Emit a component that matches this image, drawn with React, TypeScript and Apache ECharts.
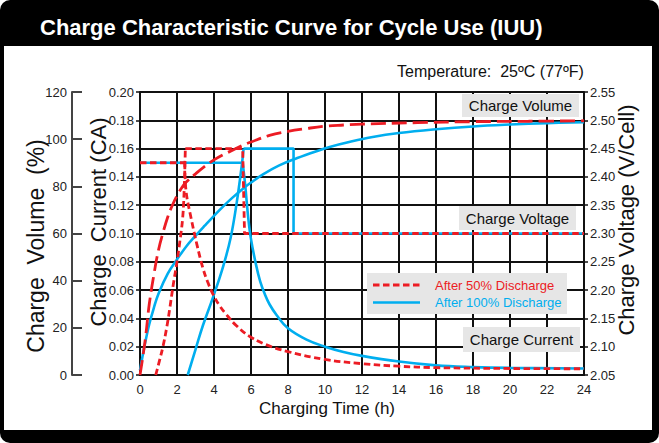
import React, { useEffect, useRef } from 'react';
import * as echarts from 'echarts';

const FONT = '"Liberation Sans", Arial, Helvetica, sans-serif';
const RED = '#ec1c24';
const BLUE = '#00aeef';

// x-axis ticks (h)
const hourTicks = [0, 2, 4, 6, 8, 10, 12, 14, 16, 18, 20, 22, 24];

// ---- After 50% discharge ----
const volume50Hours = [0, 0.15, 0.3, 0.5, 0.75, 1.0, 1.25, 1.5, 1.75, 2.0, 2.25, 2.5, 3.0, 3.5, 4.0, 4.5, 5.0, 5.5, 6.0, 7.0, 8.0, 9.0, 10, 11, 12, 15, 18, 21, 24];
const volume50 = [0, 7.5, 16, 30, 42.5, 53, 60.5, 67, 72, 76, 79.3, 81.8, 85.3, 88.5, 91.2, 93.4, 95.3, 97.2, 98.8, 101.6, 103.3, 104.5, 105.5, 106, 106.4, 107, 107.4, 107.6, 107.8];

const currentFlat50Hours = [0, 2.42];
const currentFlat50 = [0.15, 0.15];
const currentDecay50Hours = [2.42, 2.49, 2.76, 3.08, 3.39, 3.65, 3.95, 4.3, 4.65, 5.2, 5.9, 6.8, 8, 10, 12, 14, 16, 20, 24];
const currentDecay50 = [0.15, 0.13, 0.111, 0.092, 0.076, 0.066, 0.057, 0.049, 0.043, 0.035, 0.0275, 0.0215, 0.0165, 0.011, 0.008, 0.0062, 0.0052, 0.0046, 0.0044];

const voltRise50Hours = [0.85, 1.05, 1.24, 1.45, 1.62, 1.8, 2.0, 2.15, 2.3, 2.38, 2.45];
const voltRise50 = [2.05, 2.075, 2.1, 2.135, 2.17, 2.21, 2.25, 2.285, 2.325, 2.37, 2.45];
const voltHold50Hours = [2.45, 5.55, 5.65, 24];
const voltHold50 = [2.45, 2.45, 2.3, 2.3];

// ---- After 100% discharge ----
const volume100Hours = [0, 0.25, 0.5, 0.75, 1.0, 1.5, 2.0, 2.5, 3.0, 3.5, 4.0, 4.5, 5.0, 5.5, 6.0, 6.67, 7.5, 8.5, 9.5, 10.3, 11.36, 12.5, 14, 16, 18, 20, 22, 24];
const volume100 = [2, 12.5, 21.5, 28.5, 34.5, 43, 49, 54.5, 59, 63.3, 67.5, 71.5, 75.2, 78.6, 81.6, 85.2, 88.8, 92, 94.8, 96.8, 98.9, 100.8, 102.6, 104.2, 105.4, 106.2, 106.8, 107.2];

const currentFlat100Hours = [0, 5.55];
const currentFlat100 = [0.15, 0.15];
const currentDecay100Hours = [5.55, 5.68, 5.86, 6.0, 6.27, 6.5, 6.75, 7.0, 7.4, 8, 9, 10, 11, 12, 14, 16, 18, 20, 24];
const currentDecay100 = [0.15, 0.135, 0.11, 0.096, 0.078, 0.066, 0.057, 0.05, 0.042, 0.033, 0.025, 0.02, 0.0163, 0.0135, 0.0095, 0.0068, 0.0056, 0.005, 0.0046];

const voltRise100Hours = [2.58, 3.0, 3.4, 3.95, 4.5, 4.9, 5.23, 5.5, 5.6];
const voltRise100 = [2.05, 2.095, 2.1375, 2.1875, 2.2425, 2.2925, 2.355, 2.42, 2.45];
const voltHold100Hours = [5.6, 8.3, 8.3, 24];
const voltHold100 = [2.45, 2.45, 2.3, 2.3];

const legendNames = ['After 50% Discharge', 'After 100% Discharge'];

const pairs = (xs: number[], ys: number[]) => xs.map((x, i) => [x, ys[i]]);

const SHORT = [6.5, 3.5];
const LONG = [15, 6];

function line(name: string, xs: number[], ys: number[], axis: number, color: string, type: any, width: number, smooth: number | boolean) {
  return {
    name,
    type: 'line',
    yAxisIndex: axis,
    data: pairs(xs, ys),
    symbol: 'none',
    smooth,
    lineStyle: { color, width, type },
    itemStyle: { color },
  };
}

const N50 = legendNames[0];
const N100 = legendNames[1];

function labelBox(text: string, x: number, y: number, w: number, h: number) {
  return [
    { type: 'rect', z: 5, shape: { x, y, width: w, height: h }, style: { fill: '#e6e6e6' } },
    {
      type: 'text', z: 6, x: x + w / 2, y: y + h / 2,
      style: { text, fill: '#111', fontSize: 15, fontFamily: FONT, textAlign: 'center', textVerticalAlign: 'middle', align: 'center', verticalAlign: 'middle' },
    },
  ];
}

function vText(text: string, x: number, y: number, size: number) {
  return {
    type: 'text', x, y, rotation: Math.PI / 2,
    style: { text, fill: '#111', fontSize: size, fontFamily: FONT, textAlign: 'center', textVerticalAlign: 'middle', align: 'center', verticalAlign: 'middle' },
  };
}

function legendGraphic() {
  const x = 367, y = 273, w = 200, h = 41;
  const rows = [
    { name: N50, color: RED, dash: SHORT, width: 2.8, cy: y + 12 },
    { name: N100, color: BLUE, dash: null, width: 2.6, cy: y + 29.5 },
  ];
  const els: any[] = [{ type: 'rect', z: 5, shape: { x, y, width: w, height: h }, style: { fill: '#e6e6e6' } }];
  rows.forEach((r) => {
    els.push({
      type: 'line', z: 6,
      shape: { x1: x + 6, y1: r.cy, x2: x + 53, y2: r.cy },
      style: { stroke: r.color, lineWidth: r.width, lineDash: r.dash || undefined },
    });
    els.push({
      type: 'text', z: 6, x: x + 68, y: r.cy,
      style: { text: r.name, fill: r.color, fontSize: 13, fontFamily: FONT, textVerticalAlign: 'middle', verticalAlign: 'middle' },
    });
  });
  return els;
}

export default function App() {
  const ref = useRef<HTMLDivElement>(null);
  useEffect(() => {
    const chart = echarts.init(ref.current!, undefined, { renderer: 'svg' });
    const gridLine = { show: true, lineStyle: { color: '#111', width: 2 } };
    const labelStyle = { color: '#222', fontSize: 13, fontFamily: FONT };
    chart.setOption({
      animation: false,
      backgroundColor: 'transparent',
      textStyle: { fontFamily: FONT },
      grid: { left: 140, right: 75, top: 92, bottom: 68, containLabel: false },
      xAxis: {
        type: 'value', min: hourTicks[0], max: hourTicks[hourTicks.length - 1], interval: 2,
        axisLine: { show: true, lineStyle: { color: '#111', width: 2 } },
        axisTick: { show: false },
        axisLabel: { ...labelStyle, margin: 8 },
        splitLine: gridLine,
      },
      yAxis: [
        {
          type: 'value', min: 0, max: 0.2, interval: 0.02, position: 'left',
          axisLine: { show: true, lineStyle: { color: '#111', width: 2 } },
          axisTick: { show: true, length: 4, lineStyle: { color: '#111', width: 1.5 } },
          axisLabel: { ...labelStyle, margin: 6, formatter: (v: number) => v.toFixed(2) },
          splitLine: gridLine,
        },
        {
          type: 'value', min: 0, max: 120, interval: 20, position: 'left', offset: 68,
          axisLine: { show: true, lineStyle: { color: '#444', width: 2 } },
          axisTick: { show: true, inside: true, length: 10, lineStyle: { color: '#444', width: 2 } },
          axisLabel: { ...labelStyle, margin: 5 },
          splitLine: { show: false },
        },
        {
          type: 'value', min: 2.05, max: 2.55, interval: 0.05, position: 'right',
          axisLine: { show: true, lineStyle: { color: '#111', width: 2 } },
          axisTick: { show: true, length: 4, lineStyle: { color: '#111', width: 1.5 } },
          axisLabel: { ...labelStyle, margin: 6, formatter: (v: number) => v.toFixed(2) },
          splitLine: { show: false },
        },
      ],
      series: [
        line(N100, volume100Hours, volume100, 1, BLUE, 'solid', 2.6, 0.4),
        line(N100, currentFlat100Hours, currentFlat100, 0, BLUE, 'solid', 2.6, false),
        line(N100, currentDecay100Hours, currentDecay100, 0, BLUE, 'solid', 2.6, 0.4),
        line(N100, voltRise100Hours, voltRise100, 2, BLUE, 'solid', 2.6, 0.4),
        line(N100, voltHold100Hours, voltHold100, 2, BLUE, 'solid', 2.6, false),
        line(N50, currentFlat50Hours, currentFlat50, 0, RED, SHORT, 2.8, false),
        line(N50, currentDecay50Hours, currentDecay50, 0, RED, SHORT, 2.8, 0.4),
        line(N50, voltRise50Hours, voltRise50, 2, RED, SHORT, 2.8, 0.4),
        line(N50, voltHold50Hours, voltHold50, 2, RED, SHORT, 2.8, false),
        line(N50, volume50Hours, volume50, 1, RED, LONG, 2.8, 0.4),
      ],
      graphic: [
        {
          type: 'text', x: 40, y: 27,
          style: { text: 'Charge Characteristic Curve for Cycle Use (IUU)', fill: '#fff', fontSize: 22, fontWeight: 'bold', fontFamily: FONT, textVerticalAlign: 'middle', verticalAlign: 'middle' },
        },
        {
          type: 'text', x: 397, y: 71,
          style: { text: 'Temperature:  25ºC (77ºF)', fill: '#111', fontSize: 16, fontFamily: FONT, textVerticalAlign: 'middle', verticalAlign: 'middle' },
        },
        {
          type: 'text', x: 327, y: 408,
          style: { text: 'Charging Time (h)', fill: '#111', fontSize: 17, fontFamily: FONT, textAlign: 'center', textVerticalAlign: 'middle', align: 'center', verticalAlign: 'middle' },
        },
        vText('Charge  Volume  (%)', 36, 246, 23),
        vText('Charge  Current (CA)', 98, 222, 22),
        vText('Charge Voltage (V/Cell)', 626, 220, 22),
        ...labelBox('Charge Volume', 462, 94, 117, 23),
        ...labelBox('Charge Voltage', 459, 206, 117, 24),
        ...labelBox('Charge Current', 463, 327, 117, 25),
        ...legendGraphic(),
      ],
    });
    return () => chart.dispose();
  }, []);
  return (
    <div style={{ position: 'fixed', left: 0, top: 0, width: 659, height: 443, background: '#000', borderRadius: 10, overflow: 'hidden' }}>
      <div style={{ position: 'absolute', left: 4, top: 46, width: 648, height: 384, background: '#fff' }} />
      <div ref={ref} style={{ position: 'absolute', left: 0, top: 0, width: 659, height: 443 }} />
    </div>
  );
}
